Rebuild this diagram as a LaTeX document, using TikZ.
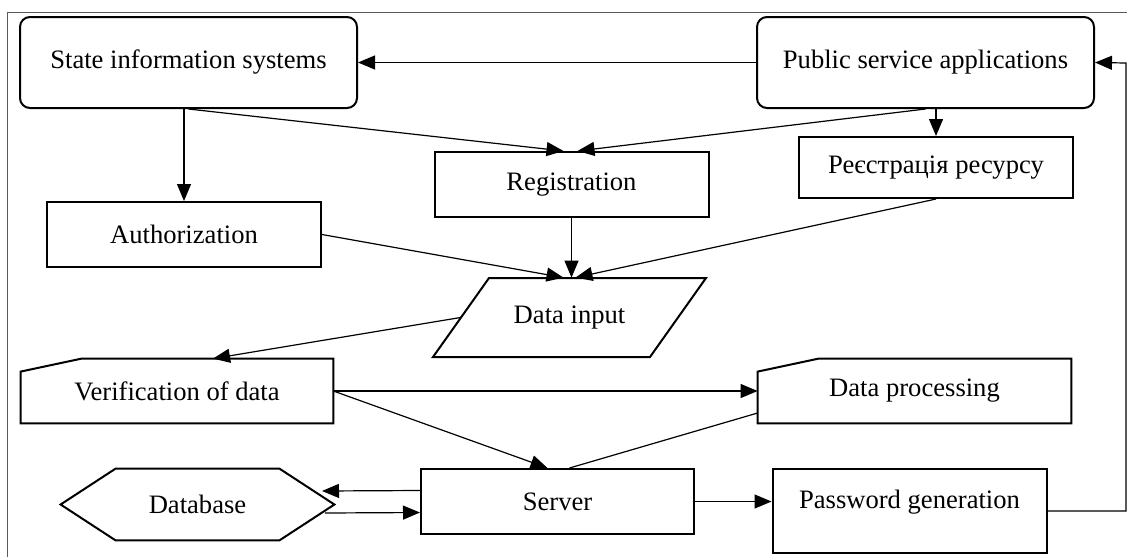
\documentclass[tikz,border=0pt]{standalone}
\usepackage{fontspec}
\setmainfont{Liberation Serif}
\usetikzlibrary{arrows.meta}
\begin{document}
\begin{tikzpicture}[x=0.5pt,y=-0.5pt,
	font=\fontsize{13.3}{16}\selectfont,
	box/.style={draw,line width=1pt,minimum width=137pt,minimum height=32.5pt,inner sep=2pt},
	rbox/.style={box,rounded corners=5pt,minimum width=168.5pt,minimum height=45.5pt},
	bare/.style={minimum width=156pt,minimum height=32pt,inner sep=2pt},
	arr/.style={line width=0.6pt,-{Triangle[length=8.5pt,width=7pt]}},
	ln/.style={line width=0.6pt}]
	\useasboundingbox (0,0) rectangle (1127,557);
	\draw[gray!70!black,line width=0.5pt] (7,557)--(7,12)--(1127,12);
	% blocks
	\node[rbox] (sis) at (188.5,62.5) {State information systems};
	\node[rbox] (psa) at (925.5,62.5) {Public service applications};
	\node[box] (reg) at (571.5,184.5) {Registration};
	\node[box,minimum height=30.5pt] (res) at (936,167.5) {Реєстрація ресурсу};
	\node[box] (auth) at (184,234.5) {Authorization};
	\node[bare,minimum width=108.5pt,minimum height=39.5pt] (inp) at (569.5,317.5) {Data input};
	\draw[line width=1pt] (433,357)--(489,278)--(706,278)--(650,357)--cycle;
	\node[bare] (ver) at (177,391) {Verification of data};
	\draw[line width=1pt] (ver.south west)--(ver.south east)--(ver.north east)
		--([xshift=30.5pt]ver.north west)--([yshift=-6.5pt]ver.north west)--cycle;
	\node[bare,minimum width=156.5pt] (proc) at (914.5,391) {Data processing};
	\draw[line width=1pt] (proc.south west)--(proc.south east)--(proc.north east)
		--([xshift=30.5pt]proc.north west)--([yshift=-6.5pt]proc.north west)--cycle;
	\node[bare,minimum width=136.5pt,minimum height=35.5pt] (db) at (197.5,504.5) {Database};
	\draw[line width=1pt] (db.west)--([xshift=27.5pt]db.north west)--([xshift=-27.5pt]db.north east)
		--(db.east)--([xshift=-27.5pt]db.south east)--([xshift=27.5pt]db.south west)--cycle;
	\node[box,minimum width=136.5pt] (srv) at (557.5,501.5) {Server};
	\node[box,minimum height=42pt,text depth=12pt] (pwd) at (909.5,511) {Password generation};
	\coordinate (dbin) at (322,491);
	\coordinate (dbout) at (325,513);
	\coordinate (rgt) at (1126,63);
	% connections
	\draw[arr] (psa.west)--(sis.east);
	\draw[arr] (auth.north |- sis.south)--(auth.north);
	\draw[arr] (sis.south)--([xshift=-4pt]reg.north);
	\draw[arr] (psa.south)--([xshift=3pt]reg.north);
	\draw[arr] (res.north |- psa.south)--(res.north);
	\draw[arr] (reg.south)--(reg.south |- inp.north);
	\draw[arr] (auth.east)--([xshift=-3pt]inp.north);
	\draw[arr] (res.south)--([xshift=3pt]inp.north);
	\draw[arr] (inp.west)--([xshift=18pt]ver.north);
	\draw[arr] (ver.east)--(proc.west);
	\draw[arr] (ver.east)--([xshift=-5pt]srv.north);
	\draw[ln] ([yshift=-11pt]proc.west)--([xshift=6pt]srv.north);
	\draw[arr] ([yshift=5.5pt]srv.west)--(dbin);
	\draw[arr] (dbout)--([yshift=-5.5pt]srv.west);
	\draw[arr] (srv.east)--(srv.east -| pwd.west);
	\draw[arr] (pwd.east) -| (rgt)--(psa.east);
\end{tikzpicture}
\end{document}
